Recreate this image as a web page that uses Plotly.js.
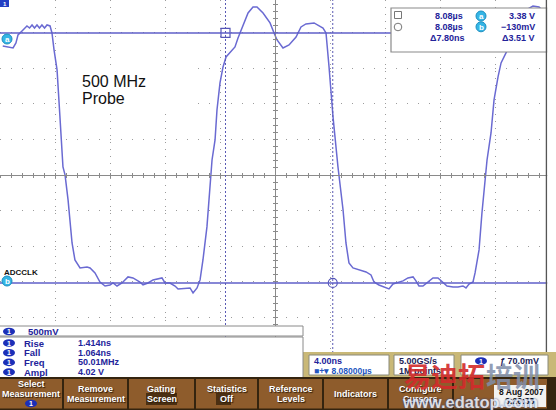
<!DOCTYPE html>
<html><head><meta charset="utf-8">
<script src="https://cdn.plot.ly/plotly-3.0.1.min.js"></script>
<style>html,body{margin:0;padding:0;background:#fff;overflow:hidden}#chart{width:556px;height:410px}</style>
</head><body><div id="chart"></div>
<script>
// ---- data read from the scope screen ----
// time relative to horizontal position (ns), 4 ns/div
const timeNs = [-19.80,-19.42,-19.05,-18.84,-18.69,-18.40,-18.04,-17.85,-17.67,-17.49,-17.31,-17.13,-16.95,-16.76,-16.58,-16.36,-16.22,-16.07,-15.85,-15.64,-15.42,-15.27,-15.05,-14.76,-14.55,-14.18,-13.67,-13.45,-13.09,-12.73,-12.36,-12.00,-11.78,-11.49,-11.13,-10.69,-10.33,-9.82,-9.60,-9.24,-8.87,-8.22,-8.00,-7.64,-7.27,-7.05,-6.55,-6.18,-5.96,-5.67,-5.45,-5.24,-4.95,-4.73,-4.58,-4.36,-4.22,-4.00,-3.78,-3.56,-3.13,-2.91,-2.69,-2.33,-1.96,-1.60,-1.31,-0.87,-0.36,-0.07,0.15,0.58,1.02,1.53,1.89,2.25,2.84,3.49,3.71,3.93,4.22,4.58,4.65,4.95,5.16,5.38,5.67,6.11,6.62,6.98,7.20,7.56,8.07,8.29,8.58,8.80,9.31,9.67,10.04,10.25,10.47,10.76,11.13,11.49,11.85,12.22,12.51,12.95,13.31,13.67,13.89,14.11,14.40,14.55,14.84,15.05,15.27,15.42,15.71,15.93,16.22,16.44,16.80,17.24,17.67,18.25,18.76,19.20,19.56,19.85];
// channel 1 voltage (V), 500 mV/div
const voltsV = [3.197,3.183,3.169,3.239,3.352,3.408,3.478,3.449,3.492,3.449,3.492,3.449,3.492,3.449,3.492,3.478,3.379,3.141,2.860,2.200,1.498,1.386,1.035,0.431,0.192,0.080,0.094,0.080,0.010,-0.117,-0.173,-0.159,-0.131,-0.173,-0.131,-0.046,-0.060,-0.117,-0.159,-0.131,-0.088,-0.060,-0.131,-0.131,-0.173,-0.215,-0.201,-0.201,-0.271,-0.201,-0.088,0.192,0.656,1.217,1.596,1.877,2.298,2.677,2.902,3.042,3.141,3.183,3.309,3.492,3.660,3.744,3.744,3.660,3.520,3.379,3.281,3.169,3.211,3.323,3.464,3.506,3.520,3.449,3.379,2.902,2.200,1.498,1.386,0.894,0.431,0.150,0.080,0.052,0.024,-0.018,-0.117,-0.159,-0.201,-0.215,-0.145,-0.131,-0.102,-0.060,-0.046,-0.102,-0.173,-0.173,-0.117,-0.060,-0.060,-0.117,-0.173,-0.187,-0.187,-0.173,-0.201,-0.145,-0.117,0.010,0.333,0.852,1.358,1.596,1.975,2.439,2.762,2.958,3.099,3.281,3.534,3.702,3.758,3.744,3.675,3.562];
const cursorTimeNs = [-3.6, 4.2];     // cursor a, cursor b (time)
const cursorVolts = [3.38, -0.13];    // cursor a, cursor b (voltage)
const readoutRows = [['8.08µs','a','3.38 V'],['8.08µs','b','−130mV'],['Δ7.80ns','','Δ3.51 V']];
const measLabels = ['Rise','Fall','Freq','Ampl'];
const measValues = ['1.414ns','1.064ns','50.01MHz','4.02 V'];
const buttonLines = [['Select','Measurement'],['Remove','Measurement'],['Gating','Screen'],['Statistics','Off'],['Reference','Levels'],['Indicators'],['Configure','Cursors']];

// ---- screen geometry (pixels) ----
const PW = 550, PH = 353;
const PX = x => x / PW;
const PY = y => (PH - y) / PH;
const FONT = 'Liberation Sans, Arial, sans-serif';
const BLUE = '#6a6ad2', DARKBLUE = '#23239a';

const shapes = [];
const annotations = [];
function rect(x0, y0, x1, y1, fill, line, lw) {
  shapes.push({type:'rect', xref:'paper', yref:'paper', x0:PX(x0), x1:PX(x1), y0:PY(y1), y1:PY(y0),
    fillcolor:fill, line:{color:line||fill, width:line?(lw||1):0}, layer:'above'});
}
function ell(cx, cy, rx, ry, fill, line) {
  shapes.push({type:'circle', xref:'paper', yref:'paper', x0:PX(cx-rx), x1:PX(cx+rx), y0:PY(cy+ry), y1:PY(cy-ry),
    fillcolor:fill, line:{color:line||fill, width:line?1:0}, layer:'above'});
}
function txt(t, x, y, size, color, opts) {
  opts = opts || {};
  annotations.push({text:t, xref:'paper', yref:'paper', x:PX(x), y:PY(y), xanchor:opts.xa||'left', yanchor:'middle',
    showarrow:false, font:Object.assign({family:opts.family||FONT, size:size, color:color, weight:opts.weight||'bold'}, opts.shadow?{shadow:opts.shadow}:{}),
    opacity:opts.opacity||1});
}
function chip(cx, cy, label) { // blue channel-1 oval
  ell(cx, cy, 6, 3.8, '#1b2fb8');
  txt(label, cx, cy, 7, '#ffffff', {xa:'center'});
}
function cyanMark(cx, cy, label) {
  ell(cx, cy, 5, 5, '#35b5e5', '#1d8fc0');
  txt(label, cx, cy+0.5, 8, '#ffffff', {xa:'center'});
}

// cursors
cursorVolts.forEach(v => shapes.push({type:'line', xref:'paper', yref:'y', x0:0, x1:1, y0:v, y1:v,
  line:{color:'#5f5fc8', width:1.5}, layer:'above'}));
cursorTimeNs.forEach(t => shapes.push({type:'line', xref:'x', yref:'paper', x0:t, x1:t, y0:0, y1:1,
  line:{color:'#5a5ab4', width:1, dash:'2px,2px'}, layer:'above'}));

// "500 MHz Probe" label box
rect(76, 67, 188, 112, '#ffffff');
txt('500 MHz', 80, 81, 16, '#111111', {weight:'normal'});
txt('Probe', 80, 99, 16, '#111111', {weight:'normal'});

// cursor readout box
rect(391, 8, 548, 52, '#ffffff', '#8a8a8a', 1.2);
shapes.push({type:'rect', xref:'paper', yref:'paper', x0:PX(394.5), x1:PX(401.5), y0:PY(18.5), y1:PY(11.5), fillcolor:'rgba(0,0,0,0)', line:{color:'#777', width:1}, layer:'above'});
ell(398, 27, 3.8, 3.8, 'rgba(0,0,0,0)', '#777');
readoutRows.forEach((r, i) => {
  const y = 16 + i * 10.8;
  txt(r[0], i === 2 ? 428 : 433, y, 9, DARKBLUE);
  if (r[1]) cyanMark(481, y, r[1]);
  txt(r[2], 537, y, 9, DARKBLUE, {xa:'right'});
});

// left edge markers
rect(0, 0, 9, 7, '#2340c4');
txt('1', 4.5, 3.5, 6, '#ffffff', {xa:'center'});
cyanMark(7, 39, 'a');
txt('ADCCLK', 2, 272.5, 8, '#111111');
cyanMark(7, 281, 'b');

// right border
shapes.push({type:'line', xref:'paper', yref:'paper', x0:PX(546.5), x1:PX(546.5), y0:PY(353), y1:PY(0), line:{color:'#555', width:1.5}, layer:'above'});
rect(547.3, 0, 556, 353, '#ffffff');

// status strip
rect(0, 352, 556, 378, '#c9b877');
rect(309, 355, 389, 375, '#ffffff', '#8a8a7a');
txt('4.00ns', 312, 361, 9, DARKBLUE);
txt('■+▾ 8.08000µs', 312, 370.5, 8.5, '#2456c0');
rect(394, 355, 454, 375, '#ffffff', '#8a8a7a');
txt('5.00GS/s', 397, 361, 9, '#222255');
txt('1M points', 397, 370.5, 9, '#222255');
rect(461, 355, 548, 375, '#ffffff', '#8a8a7a');
chip(481, 361, '1');
txt('ƒ 70.0mV', 541, 361, 9, '#222255', {xa:'right'});

// vertical scale + measurement panels
rect(-2, 326, 303, 336, '#ffffff', '#8a8a8a');
chip(9, 331.5, '1');
txt('500mV', 26, 331.5, 9.5, DARKBLUE);
rect(-2, 337, 303, 378, '#ffffff', '#8a8a8a');
measLabels.forEach((m, i) => {
  const y = 343 + i * 9.7;
  chip(9, y, '1');
  txt(m, 22, y, 9.5, DARKBLUE);
  txt(measValues[i], 76, y, 9, DARKBLUE);
});

// bottom button bar
rect(0, 377, 556, 410, '#34240f');
const btnX = [[0,62],[64,127],[129,194],[196,257],[259,322],[324,387],[389,452],[454,547]];
btnX.forEach(b => rect(b[0], 379, b[1], 408.5, '#8e5c2c'));
rect(146, 393, 177, 405, '#4b2f12');
rect(216, 393, 231, 405, '#4b2f12');
buttonLines.forEach((lines, i) => {
  const cx = (btnX[i][0] + btnX[i][1]) / 2;
  if (lines.length === 1) { txt(lines[0], cx, 393.5, 9, '#ffffff', {xa:'center', shadow:'1px 1px 1px #2a1a08'}); return; }
  const y0 = i === 0 ? 383.5 : 389;
  txt(lines[0], cx, y0, 9, '#ffffff', {xa:'center', shadow:'1px 1px 1px #2a1a08'});
  txt(lines[1], cx, y0 + 10, 9, '#ffffff', {xa:'center', shadow:'1px 1px 1px #2a1a08'});
});
chip(31, 403.5, '1');
rect(494, 385, 546, 407, '#f2f2f0');
txt('8 Aug 2007', 497, 392, 8.5, '#111111');
txt('3:26:38', 503, 401, 8.5, '#111111');

// watermark
txt('易迪拓', 402, 375, 27, '#d22b2b', {family:'Noto Sans CJK SC', opacity:0.9});
txt('培训', 484, 375, 27, '#7f8eaa', {family:'Noto Sans CJK SC', opacity:0.85});
txt('www.edatop.com', 400, 401.5, 16.5, '#e6eaf4', {shadow:'0 0 2px #1a3a8a', opacity:0.9});

const traces = [
  {type:'scatter', mode:'lines', x:timeNs, y:voltsV, line:{color:BLUE, width:1.5, shape:'linear'}, hoverinfo:'skip'},
  {type:'scatter', mode:'markers', x:cursorTimeNs, y:cursorVolts, marker:{symbol:['square-open','circle-open'], size:9, color:'#5555b8', line:{width:1.2}}, hoverinfo:'skip'},
  {type:'scatter', x:[], y:[], xaxis:'x2', yaxis:'y2', hoverinfo:'skip'},
  {type:'scatter', x:[], y:[], xaxis:'x3', yaxis:'y3', hoverinfo:'skip'}
];

const xr = [-20, 20], yr = [-1.114, 3.842];
const base = {showticklabels:false, zeroline:false, fixedrange:true};
const layout = {
  width:556, height:410, margin:{l:0, r:6, t:0, b:57}, showlegend:false,
  paper_bgcolor:'#ffffff', plot_bgcolor:'#ffffff',
  xaxis:Object.assign({}, base, {range:xr, tick0:0, dtick:4, showgrid:true, gridcolor:'#9c9c9c', gridwidth:1, griddash:'1px,6.1px', ticks:''}),
  yaxis:Object.assign({}, base, {range:yr, tick0:1.385, dtick:0.5, showgrid:true, gridcolor:'#9c9c9c', gridwidth:1, griddash:'1px,10px', ticks:''}),
  xaxis2:Object.assign({}, base, {range:xr, overlaying:'x', anchor:'free', position:0.5042, showline:true, linecolor:'#8a8a8a', linewidth:1, ticks:'outside', ticklen:2, tickcolor:'#8a8a8a', tick0:0, dtick:0.8, showgrid:false}),
  yaxis2:Object.assign({}, base, {range:yr, overlaying:'y', anchor:'free', position:0.5, showline:true, linecolor:'#8a8a8a', linewidth:1, ticks:'outside', ticklen:2, tickcolor:'#8a8a8a', tick0:1.385, dtick:0.1, showgrid:false}),
  xaxis3:Object.assign({}, base, {range:xr, overlaying:'x', anchor:'free', position:0.5042, showline:false, ticks:'inside', ticklen:2, tickcolor:'#8a8a8a', tick0:0, dtick:0.8, showgrid:false}),
  yaxis3:Object.assign({}, base, {range:yr, overlaying:'y', anchor:'free', position:0.5, showline:false, ticks:'inside', ticklen:2, tickcolor:'#8a8a8a', tick0:1.385, dtick:0.1, showgrid:false}),
  shapes:shapes, annotations:annotations
};
Plotly.newPlot('chart', traces, layout, {displayModeBar:false, staticPlot:true});
</script></body></html>
